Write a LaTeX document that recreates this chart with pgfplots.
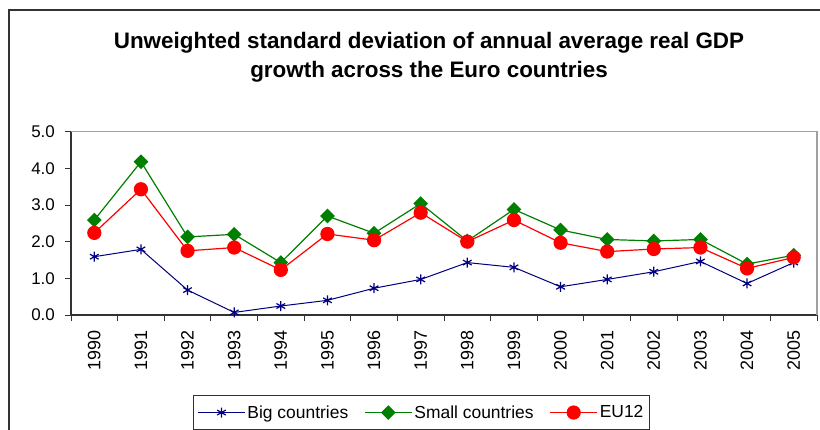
\documentclass[border=0pt]{standalone}
\usepackage{fontspec}
\setmainfont{Liberation Sans}
\usepackage{pgfplots}
\pgfplotsset{compat=1.18}
\definecolor{bigc}{HTML}{000080}
\definecolor{smallc}{HTML}{008000}
\definecolor{euc}{HTML}{FF0000}
\definecolor{framec}{HTML}{333333}
\definecolor{plotfr}{HTML}{A0A0A0}
\begin{document}
\begin{tikzpicture}
\path[use as bounding box, clip] (0,0) rectangle (820bp,430bp);
\fill[white] (0,0) rectangle (820bp,430bp);
\draw[framec, line width=1.5bp] (9bp,0bp) -- (9bp,420bp) -- (830bp,420bp);
\node[anchor=base, font=\bfseries\fontsize{22.5}{26}\selectfont] at (429bp,381.7bp) {Unweighted standard deviation of annual average real GDP};
\node[anchor=base, font=\bfseries\fontsize{22.5}{26}\selectfont] at (429bp,352.7bp) {growth across the Euro countries};
\begin{axis}[
  at={(71bp,115bp)}, anchor=south west,
  scale only axis, width=746bp, height=183.3bp,
  xmin=-0.5, xmax=15.5, ymin=0, ymax=5,
  axis lines*=left, axis line style={draw=framec, line width=1.2bp, -},
  xtick={0,...,15},
  xticklabels={1990,1991,1992,1993,1994,1995,1996,1997,1998,1999,2000,2001,2002,2003,2004,2005},
  major x tick style={draw=none},
  minor xtick={-0.5,0.5,...,15.5},
  minor x tick style={draw=framec, line width=1bp},
  minor tick length=6bp,
  ytick={0,1,...,5},
  major y tick style={draw=framec, line width=1bp},
  major tick length=6bp,
  tick align=outside,
  yticklabel style={/pgf/number format/fixed, /pgf/number format/fixed zerofill, /pgf/number format/precision=1},
  /pgf/number format/assume math mode=true,
  yticklabel style={font=\fontsize{17}{20}\selectfont},
  xticklabel style={font=\fontsize{18}{21}\selectfont},
  xticklabel style={rotate=90, anchor=east, inner sep=0pt},
  xticklabel shift=9bp,
  yticklabel style={anchor=east, inner sep=0pt},
  yticklabel shift=10bp,
  clip=false,
  legend style={at={(0.1635,-0.4364)}, anchor=north west, draw=framec, line width=1bp,
    font=\fontsize{17.5}{20}\selectfont, legend columns=3, inner ysep=8bp, inner xsep=4bp,
    /tikz/every even column/.append style={column sep=14bp}},
  legend image code/.code={\draw[mark repeat=2, mark phase=2] plot coordinates {(0bp,0bp) (23.5bp,0bp) (47bp,0bp)};},
  legend cell align=left,
]
\addplot[bigc, line width=1bp, mark=asterisk, mark size=5bp, mark options={line width=1.2bp}] coordinates {
(0,1.59) (1,1.79) (2,0.68) (3,0.07) (4,0.245) (5,0.40) (6,0.73) (7,0.97)
(8,1.43) (9,1.30) (10,0.77) (11,0.97) (12,1.18) (13,1.46) (14,0.86) (15,1.43)};
\addlegendentry{Big countries}
\addplot[smallc, line width=1.2bp, mark=square*, mark size=4.6bp, mark options={rotate=45}] coordinates {
(0,2.59) (1,4.18) (2,2.13) (3,2.20) (4,1.43) (5,2.70) (6,2.23) (7,3.04)
(8,2.02) (9,2.88) (10,2.32) (11,2.06) (12,2.02) (13,2.06) (14,1.39) (15,1.63)};
\addlegendentry{Small countries}
\addplot[euc, line width=1.2bp, mark=*, mark size=6.5bp] coordinates {
(0,2.24) (1,3.43) (2,1.75) (3,1.84) (4,1.23) (5,2.21) (6,2.04) (7,2.79)
(8,2.00) (9,2.59) (10,1.97) (11,1.73) (12,1.80) (13,1.84) (14,1.27) (15,1.57)};
\addlegendentry{EU12}
\draw[plotfr, line width=1.5bp] (rel axis cs:0,1) -- (rel axis cs:1,1) -- (rel axis cs:1,0);
\end{axis}
\end{tikzpicture}
\end{document}
